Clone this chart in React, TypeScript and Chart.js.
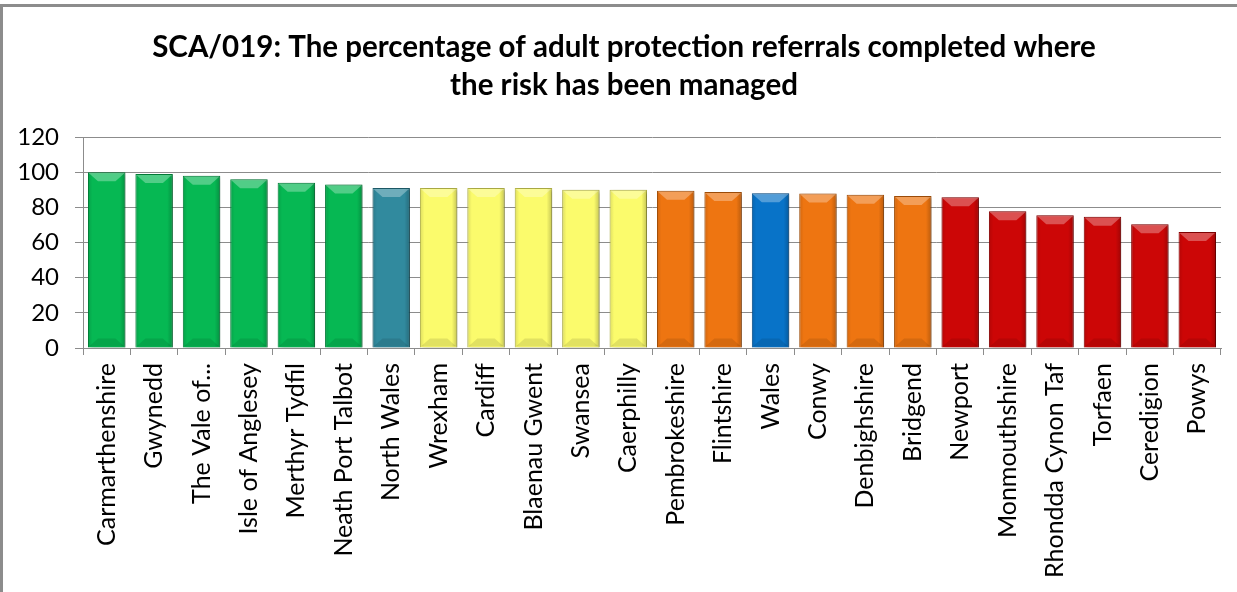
import React, { useEffect, useRef } from "react";
import { Chart, registerables } from "chart.js";

Chart.register(...registerables);

const titleLines = [
  "SCA/019: The percentage of adult protection referrals completed where",
  "the risk has been managed",
];

const categories = [
  "Carmarthenshire",
  "Gwynedd",
  "The Vale of...",
  "Isle of Anglesey",
  "Merthyr Tydfil",
  "Neath Port Talbot",
  "North Wales",
  "Wrexham",
  "Cardiff",
  "Blaenau Gwent",
  "Swansea",
  "Caerphilly",
  "Pembrokeshire",
  "Flintshire",
  "Wales",
  "Conwy",
  "Denbighshire",
  "Bridgend",
  "Newport",
  "Monmouthshire",
  "Rhondda Cynon Taf",
  "Torfaen",
  "Ceredigion",
  "Powys",
];

const values = [
  100, 99, 98, 96, 94, 93, 91, 91, 91, 91, 90, 90, 89.5, 88.7, 88, 87.8, 87.2,
  86.5, 85.7, 77.8, 75.5, 74.7, 70.4, 66,
];

// band per category: G=green, T=teal, Y=yellow, O=orange, B=blue, R=red
const bands = [
  "G", "G", "G", "G", "G", "G", "T", "Y", "Y", "Y", "Y", "Y", "O", "O", "B",
  "O", "O", "O", "R", "R", "R", "R", "R", "R",
];

const yTicks = [0, 20, 40, 60, 80, 100, 120];

const bandFill: Record<string, string> = {
  G: "#06b853",
  T: "#318a9e",
  Y: "#fbfb6c",
  O: "#ee7511",
  B: "#0873c8",
  R: "#cc0606",
};
const bandEdge: Record<string, string> = {
  G: "#04833b",
  T: "#1f5f6e",
  Y: "#b8b84a",
  O: "#a8520a",
  B: "#044f8c",
  R: "#8a0303",
};

export default function App() {
  const ref = useRef<HTMLCanvasElement | null>(null);

  useEffect(() => {
    if (!ref.current) return;
    const framePlugin = {
      id: "frame",
      beforeDraw(chart: any) {
        const ctx = chart.ctx;
        ctx.save();
        ctx.fillStyle = "#ffffff";
        ctx.fillRect(0, 0, chart.width, chart.height);
        ctx.fillStyle = "#8c8c8c";
        ctx.fillRect(0, 4, chart.width, 3);
        ctx.fillRect(0, 4, 3, chart.height);
        // title
        ctx.fillStyle = "#000000";
        ctx.font = "bold 29.5px Lato";
        ctx.textAlign = "center";
        ctx.textBaseline = "middle";
        titleLines.forEach((line, i) => {
          ctx.fillText(line, 624, 47 + i * 38);
        });
        ctx.restore();
      },
      beforeDatasetsDraw(chart: any) {
        const ctx = chart.ctx;
        ctx.save();
        ctx.shadowColor = "rgba(0,0,0,0.35)";
        ctx.shadowBlur = 4;
        ctx.shadowOffsetX = 2;
        ctx.shadowOffsetY = 1;
      },
      afterDatasetsDraw(chart: any) {
        const ctx = chart.ctx;
        ctx.restore();
        // bevel overlay, using the bar elements' own geometry
        const meta = chart.getDatasetMeta(0);
        ctx.save();
        meta.data.forEach((bar: any) => {
          const { x, y, base, width } = bar.getProps(["x", "y", "base", "width"], true);
          const l = x - width / 2;
          const r = x + width / 2;
          const h = base - y;
          const b = Math.min(9, h / 3);
          const g = ctx.createLinearGradient(l, 0, r, 0);
          g.addColorStop(0, "rgba(0,0,0,0.12)");
          g.addColorStop(0.12, "rgba(0,0,0,0)");
          g.addColorStop(0.85, "rgba(0,0,0,0)");
          g.addColorStop(1, "rgba(0,0,0,0.22)");
          ctx.fillStyle = g;
          ctx.fillRect(l + 1, y + 1, width - 2, h - 2);
          ctx.fillStyle = "rgba(255,255,255,0.30)";
          ctx.beginPath();
          ctx.moveTo(l + 1, y + 1);
          ctx.lineTo(r - 1, y + 1);
          ctx.lineTo(r - 1 - b, y + b);
          ctx.lineTo(l + 1 + b, y + b);
          ctx.closePath();
          ctx.fill();
          ctx.fillStyle = "rgba(0,0,0,0.10)";
          ctx.beginPath();
          ctx.moveTo(l + 1, base - 1);
          ctx.lineTo(r - 1, base - 1);
          ctx.lineTo(r - 1 - b, base - b);
          ctx.lineTo(l + 1 + b, base - b);
          ctx.closePath();
          ctx.fill();
        });
        ctx.restore();
      },
    };

    const chart = new Chart(ref.current, {
      type: "bar",
      data: {
        labels: categories,
        datasets: [
          {
            data: values,
            backgroundColor: bands.map((b) => bandFill[b]),
            borderColor: bands.map((b) => bandEdge[b]),
            borderWidth: 1,
            barPercentage: 0.79,
            categoryPercentage: 1,
          },
        ],
      },
      options: {
        animation: false,
        responsive: true,
        maintainAspectRatio: false,
        layout: { padding: { left: 0, right: 16, top: 137, bottom: 0 } },
        plugins: {
          legend: { display: false },
          tooltip: { enabled: false },
          title: { display: false },
        },
        scales: {
          x: {
            offset: true,
            grid: {
              offset: true,
              drawOnChartArea: false,
              tickLength: 7,
              color: "#8c8c8c",
            },
            border: { color: "#8c8c8c", width: 1 },
            ticks: {
              autoSkip: false,
              minRotation: 90,
              maxRotation: 90,
              padding: 8,
              color: "#000000",
              font: { family: "Lato", size: 25 },
            },
            afterFit(scale: any) {
              scale.height = 244;
            },
          },
          y: {
            min: 0,
            max: 120,
            afterBuildTicks(scale: any) {
              scale.ticks = yTicks.map((v) => ({ value: v }));
            },
            grid: { color: "#8c8c8c", tickLength: 8 },
            border: { color: "#8c8c8c", width: 1 },
            ticks: {
              padding: 16,
              color: "#000000",
              font: { family: "Lato", size: 24 },
            },
            afterFit(scale: any) {
              scale.width = 83;
            },
          },
        },
      },
      plugins: [framePlugin],
    });
    return () => chart.destroy();
  }, []);

  return (
    <div
      style={{
        position: "fixed",
        left: 0,
        top: 0,
        width: 1237,
        height: 592,
        background: "#ffffff",
      }}
    >
      <canvas ref={ref} />
    </div>
  );
}
